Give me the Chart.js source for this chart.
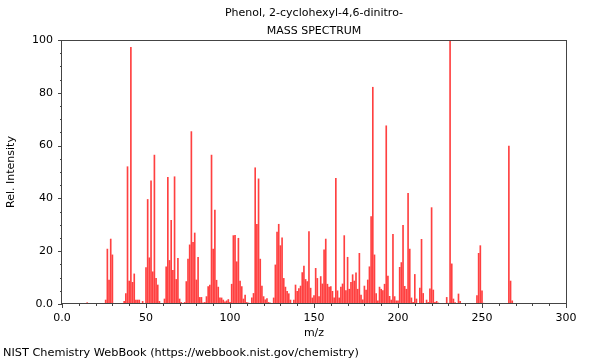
<!DOCTYPE html>
<html>
<head>
<meta charset="utf-8">
<title>Phenol, 2-cyclohexyl-4,6-dinitro- mass spectrum</title>
<script src="https://cdn.jsdelivr.net/npm/chart.js@4.4.0/dist/chart.umd.min.js"></script>
<style>
    html, body { margin: 0; padding: 0; background: #fff; }
    canvas { display: block; }
</style>
</head>
<body>
<canvas id="ms_chart" width="600" height="360"></canvas>
<script>
// peaks (m/z, relative intensity)
var mz = [
    15, 26, 27, 28, 29, 30, 37, 38, 39, 40, 41, 42, 43, 44, 45, 46, 48,
    50, 51, 52, 53, 54, 55, 56, 57, 58, 61, 62, 63, 64, 65, 66, 67, 68, 69, 70,
    71, 73, 74, 75, 76, 77, 78, 79, 80, 81, 82, 83, 84, 85, 86, 87, 88, 89, 90,
    91, 92, 93, 94, 95, 96, 97, 98, 99, 100, 101, 102, 103, 104, 105, 106, 107,
    108, 109, 110, 111, 113, 114, 115, 116, 117, 118, 119, 120, 121, 122, 123,
    124, 126, 127, 128, 129, 130, 131, 132, 133, 134, 135, 136, 138, 139, 140,
    141, 142, 143, 144, 145, 146, 147, 148, 149, 150, 151, 152, 153, 154, 155,
    156, 157, 158, 159, 160, 161, 162, 163, 164, 165, 166, 167, 168, 169, 170,
    171, 172, 173, 174, 175, 176, 177, 178, 179, 180, 181, 182, 183, 184, 185,
    186, 187, 188, 189, 190, 191, 192, 193, 194, 195, 196, 197, 198, 199, 200,
    201, 202, 203, 204, 205, 206, 207, 208, 209, 210, 211, 213, 214, 215, 217,
    218, 219, 220, 221, 222, 223, 224, 225, 229, 230, 231, 232, 233, 234, 236,
    237, 247, 248, 249, 250, 251, 266, 267, 268
];
var intensity = [
    0.5, 1.5, 20.8, 9.1, 24.6, 18.6, 1.0, 3.9, 52.0, 8.7, 97.2, 8.2, 11.4, 1.5, 1.5, 1.5, 1.0,
    13.8, 39.6, 17.5, 46.7, 12.2, 56.4, 9.7, 7.2, 1.0, 1.9, 14.1, 48.0, 16.5, 31.7, 12.8, 48.2, 9.3, 17.3, 1.9,
    0.6, 0.6, 8.5, 17.0, 22.4, 65.3, 23.4, 26.9, 9.1, 17.7, 2.5, 2.5, 0.4, 0.6, 2.8, 6.6, 7.2, 56.4, 20.8,
    35.6, 9.0, 6.4, 2.3, 2.3, 1.5, 0.8, 1.2, 1.7, 0.6, 7.5, 25.9, 26.0, 16.0, 24.9, 8.7, 6.6,
    1.9, 3.4, 0.6, 0.4, 2.3, 4.0, 51.6, 30.2, 47.4, 17.0, 6.8, 2.8, 1.6, 2.1, 0.6,
    0.4, 2.3, 14.8, 27.2, 30.2, 22.1, 25.1, 9.7, 6.4, 4.8, 3.9, 1.5, 1.5, 7.2, 4.8,
    5.8, 6.8, 11.9, 14.4, 9.3, 8.5, 27.4, 6.0, 2.3, 3.2, 13.5, 9.7, 2.8, 10.4, 7.6,
    20.5, 24.6, 7.5, 6.4, 6.6, 4.8, 2.3, 47.6, 5.0, 2.3, 6.4, 7.6, 25.9, 5.1, 17.7,
    5.6, 8.2, 11.1, 8.7, 11.8, 5.6, 19.2, 3.4, 1.6, 6.8, 5.3, 9.1, 14.1, 33.1, 82.1,
    18.6, 3.9, 1.2, 6.4, 5.6, 5.1, 7.5, 67.5, 10.6, 2.9, 1.5, 26.4, 2.8, 1.2, 1.2,
    13.9, 15.7, 29.8, 6.7, 5.6, 41.9, 20.8, 2.3, 0.6, 11.2, 1.9, 6.0, 24.5, 4.0, 1.5,
    0.6, 5.7, 36.5, 5.3, 0.6, 1.0, 0.4, 0.3, 2.5, 0.3, 100, 15.2, 1.9, 0.5, 3.8,
    1.0, 3.2, 19.2, 22.1, 5.0, 0.3, 59.8, 8.7, 1.2
];
var xTicks = [0, 50, 100, 150, 200, 250, 300];
var yTicks = [0, 20, 40, 60, 80, 100];
var titleLines = ["Phenol, 2-cyclohexyl-4,6-dinitro-", "MASS SPECTRUM"];
var footerText = "NIST Chemistry WebBook (https://webbook.nist.gov/chemistry)";

var FONT = "'DejaVu Sans', sans-serif";
var AXIS_COLOR = '#444';

function tickLabel(list) {
    return function (value) {
        if (list.indexOf(value) < 0) return '';
        return value === 0 ? '0.0' : String(value);
    };
}

// frame, major/minor tick marks and the texts around the plot
var decorations = {
    id: 'decorations',
    afterDraw: function (chart) {
        var ctx = chart.ctx;
        var area = chart.chartArea;
        var xs = chart.scales.x;
        var ys = chart.scales.y;

        ctx.save();
        ctx.strokeStyle = AXIS_COLOR;
        ctx.lineWidth = 1;
        ctx.beginPath();
        xs.ticks.forEach(function (t) {
            var px = Math.round(xs.getPixelForValue(t.value)) + 0.5;
            var len = xTicks.indexOf(t.value) >= 0 ? 4 : 2;
            ctx.moveTo(px, area.bottom);
            ctx.lineTo(px, area.bottom + len);
        });
        ys.ticks.forEach(function (t) {
            var py = Math.round(ys.getPixelForValue(t.value)) + 0.5;
            var len = yTicks.indexOf(t.value) >= 0 ? 4 : 2;
            ctx.moveTo(area.left, py);
            ctx.lineTo(area.left - len, py);
        });
        ctx.stroke();
        ctx.strokeRect(Math.round(area.left) - 0.5, Math.round(area.top) + 0.5,
            Math.round(area.right - area.left) + 1, Math.round(area.bottom - area.top) - 1);

        ctx.fillStyle = '#000';
        ctx.font = '11px ' + FONT;
        ctx.textAlign = 'center';
        ctx.textBaseline = 'middle';
        var cx = (area.left + area.right) / 2;
        ctx.fillText(titleLines[0], cx, 13);
        ctx.fillText(titleLines[1], cx, 31);

        ctx.font = '11.3px ' + FONT;
        ctx.textAlign = 'left';
        ctx.fillText(footerText, 3, 353);
        ctx.restore();
    }
};

new Chart(document.getElementById("ms_chart").getContext("2d"), {
    type: 'bar',
    data: {
        datasets: [{
            label: "Rel. Intensity",
            data: mz.map(function (m, i) { return { x: m, y: intensity[i] }; }),
            backgroundColor: 'rgba(255, 30, 30, 0.85)',
            borderWidth: 0,
            barThickness: 1
        }]
    },
    options: {
        responsive: false,
        animation: false,
        layout: {
            padding: { left: 0, right: 34, top: 40, bottom: 20 }
        },
        plugins: {
            legend: { display: false },
            tooltip: { enabled: false }
        },
        scales: {
            x: {
                type: 'linear',
                min: 0,
                max: 300,
                offset: false,
                grid: { display: false, drawTicks: true, tickLength: 4 },
                border: { display: false },
                ticks: {
                    stepSize: 10,
                    autoSkip: false,
                    maxRotation: 0,
                    padding: 4,
                    color: '#000',
                    font: { family: FONT, size: 11 },
                    callback: tickLabel(xTicks)
                },
                title: {
                    display: true,
                    text: 'm/z',
                    color: '#000',
                    font: { family: FONT, size: 11 },
                    padding: { top: 0, bottom: 0 }
                },
                afterFit: function (scale) { scale.height = 36; }
            },
            y: {
                min: 0,
                max: 100,
                grid: { display: false, drawTicks: true, tickLength: 4 },
                border: { display: false },
                ticks: {
                    stepSize: 5,
                    autoSkip: false,
                    padding: 5,
                    color: '#000',
                    font: { family: FONT, size: 11 },
                    callback: tickLabel(yTicks)
                },
                title: {
                    display: true,
                    text: 'Rel. Intensity',
                    color: '#000',
                    font: { family: FONT, size: 11 },
                    padding: { top: 5, bottom: 0 }
                },
                afterFit: function (scale) { scale.width = 62; }
            }
        }
    },
    plugins: [decorations]
});
</script>
</body>
</html>
